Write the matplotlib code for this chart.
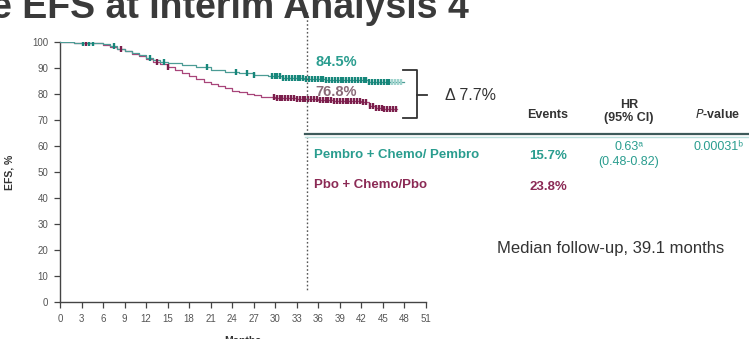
import matplotlib
matplotlib.use("Agg")
import matplotlib.pyplot as plt
from matplotlib.lines import Line2D

plt.rcParams['font.family'] = ['Liberation Sans', 'DejaVu Sans']

# ---------------- data ----------------
teal_t = [0, 2, 6, 7, 8, 9, 10, 11, 12, 13, 14, 15, 17, 19, 21, 23, 25, 27, 29, 31, 34, 37, 40, 43, 46, 48]
teal_s = [100, 99.6, 99.3, 98.5, 97.5, 96.5, 95.8, 95.0, 94.0, 93.2, 92.5, 92.0, 91.2, 90.2, 89.3, 88.6,
          88.0, 87.5, 86.8, 86.3, 85.9, 85.5, 85.2, 84.8, 84.5, 84.5]
pink_t = [0, 2, 6, 7, 8, 9, 10, 11, 12, 13, 14, 15, 16, 17, 18, 19, 20, 21, 22, 23, 24, 25, 26, 27, 28,
          30, 33, 36, 38, 40, 42, 43, 44, 45, 47]
pink_s = [100, 99.6, 99.0, 98.2, 97.3, 96.5, 95.5, 94.5, 93.5, 92.5, 91.5, 90.4, 89.3, 88.0, 86.8, 85.8,
          84.8, 83.8, 83.0, 82.2, 81.2, 80.6, 80.0, 79.5, 79.0, 78.6, 78.2, 77.8, 77.5, 77.2, 76.8, 75.5,
          74.8, 74.3, 74.3]
teal_cens = [3.2, 4.0, 4.6, 7.5, 12.5, 14.5, 20.5, 24.5, 26.0, 27.0,
             29.5, 29.9, 30.3, 30.7, 31.1, 31.5, 31.9, 32.3, 32.7, 33.1, 33.5, 33.9, 34.3, 34.7,
             35.1, 35.5, 35.9, 36.3, 36.7, 37.1, 37.5, 37.9, 38.3, 38.7, 39.1, 39.5, 39.9, 40.3,
             40.7, 41.1, 41.5, 41.9, 42.3, 42.7, 43.1, 43.5, 43.9, 44.3, 44.7, 45.1, 45.5, 45.9]
teal_tail_cens = [46.3, 46.7, 47.1, 47.5]
pink_cens = [3.6, 8.5, 13.5, 15.0,
             29.8, 30.2, 30.6, 31.0, 31.4, 31.8, 32.2, 32.6, 33.0, 33.4, 33.8, 34.2, 34.6, 35.0,
             35.4, 35.8, 36.2, 36.6, 37.0, 37.4, 37.8, 38.2, 38.6, 39.0, 39.4, 39.8, 40.2, 40.6,
             41.0, 41.4, 41.8, 42.2, 42.6, 43.2, 43.6, 44.0, 44.4, 44.8, 45.2, 45.6, 46.0, 46.4, 46.8]
x_ticks = list(range(0, 52, 3))
y_ticks = list(range(0, 101, 10))
rate_labels = ["84.5%", "76.8%"]
delta_label = "\u0394 7.7%"
arms = ["Pembro + Chemo/ Pembro", "Pbo + Chemo/Pbo"]
events = ["15.7%", "23.8%"]
hr_lines = ["0.63\u1d43", "(0.48-0.82)"]
p_text = "0.00031\u1d47"
median_fu = "Median follow-up, 39.1 months"
title = "e EFS at Interim Analysis 4"

# ---------------- figure ----------------
W, H = 749, 339
fig = plt.figure(figsize=(W / 100, H / 100), dpi=100)

def fx(x):
    return x / W

def fy(y):
    return 1 - y / H

TEAL_LINE = "#4c9c95"
TEAL_DARK = "#17877b"
TEAL_TAIL = "#9fd3cd"
PINK_LINE = "#a8457a"
PINK_DARK = "#7b1f4c"
TEAL_TXT = "#2a9d8f"
MAROON_TXT = "#8b2a55"
GRAY = "#555555"

ax = fig.add_axes([fx(60), fy(302), fx(426) - fx(60), fy(42) - fy(302)])
ax.set_xlim(0, 51)
ax.set_ylim(0, 100)


def surv_at(ts, ss, t):
    v = ss[0]
    for ti, si in zip(ts, ss):
        if ti <= t:
            v = si
    return v

ax.step(pink_t, pink_s, where="post", color=PINK_LINE, lw=0.9, zorder=3)
ax.step(teal_t, teal_s, where="post", color=TEAL_LINE, lw=0.9, zorder=4)
ax.plot(teal_cens, [surv_at(teal_t, teal_s, t) for t in teal_cens], ls="none", marker="|",
        ms=5, mew=1.7, color=TEAL_DARK, zorder=5)
ax.plot(teal_tail_cens, [surv_at(teal_t, teal_s, t) for t in teal_tail_cens], ls="none", marker="|",
        ms=5, mew=1.7, color=TEAL_TAIL, zorder=5)
ax.plot(pink_cens, [surv_at(pink_t, pink_s, t) for t in pink_cens], ls="none", marker="|",
        ms=5, mew=1.7, color=PINK_DARK, zorder=5)

for s in ["top", "right"]:
    ax.spines[s].set_visible(False)
for s in ["left", "bottom"]:
    ax.spines[s].set_color("#444444")
    ax.spines[s].set_linewidth(1.0)
ax.set_xticks(x_ticks)
ax.set_yticks(y_ticks)
ax.tick_params(axis="both", direction="out", length=4.5, width=0.9, color="#444444",
               labelsize=7, labelcolor=GRAY, pad=4)
ax.set_xlabel("Months", fontsize=7.5, fontweight="bold", color="#333333", labelpad=9)
ax.set_ylabel("EFS, %", fontsize=7.5, fontweight="bold", color="#333333", labelpad=13)

# dotted vertical line (figure-level)
fig.add_artist(Line2D([fx(307), fx(307)], [fy(12), fy(292)], ls=(0, (1.2, 1.6)), lw=1.0,
                      color="#555555"))

# title (cropped at top, as in the reference)
fig.text(fx(-9), fy(18), title, fontsize=27, fontweight="bold", color="#3a3a3a",
         ha="left", va="baseline")

# rate labels
fig.text(fx(315), fy(62), rate_labels[0], fontsize=10.5, fontweight="bold", color=TEAL_TXT,
         ha="left", va="center")
fig.text(fx(315), fy(92), rate_labels[1], fontsize=10.5, fontweight="bold", color="#8a6a78",
         ha="left", va="center", zorder=1)

# bracket
bx0, bx1 = 403, 417
fig.add_artist(Line2D([fx(bx0), fx(bx1), fx(bx1), fx(bx0)], [fy(70), fy(70), fy(118), fy(118)],
                      color="#333333", lw=1.3))
fig.add_artist(Line2D([fx(bx1), fx(427)], [fy(95), fy(95)], color="#333333", lw=1.3))
fig.text(fx(445), fy(95), delta_label, fontsize=11.5, color="#333333", ha="left", va="center")

# table
fig.add_artist(Line2D([fx(305), fx(749)], [fy(134), fy(134)], color="#3d5a5a", lw=1.6))
fig.add_artist(Line2D([fx(305), fx(749)], [fy(136.5), fy(136.5)], color="#b9dfdc", lw=1.0))
fig.text(fx(548), fy(115), "Events", fontsize=9, fontweight="bold", color="#333333",
         ha="center", va="center")
fig.text(fx(629), fy(105), "HR", fontsize=9, fontweight="bold", color="#333333",
         ha="center", va="center")
fig.text(fx(629), fy(118), "(95% CI)", fontsize=9, fontweight="bold", color="#333333",
         ha="center", va="center")
fig.text(fx(718), fy(115), "$\\mathbf{\\it{P}}$-value", fontsize=9, fontweight="bold",
         color="#333333", ha="center", va="center")

fig.text(fx(314), fy(155), arms[0], fontsize=9.5, fontweight="bold", color=TEAL_TXT,
         ha="left", va="center")
fig.text(fx(548), fy(156), events[0], fontsize=9.5, fontweight="bold", color=TEAL_TXT,
         ha="center", va="center")
fig.text(fx(629), fy(147), hr_lines[0], fontsize=9, color=TEAL_TXT, ha="center", va="center")
fig.text(fx(629), fy(162), hr_lines[1], fontsize=9, color=TEAL_TXT, ha="center", va="center")
fig.text(fx(719), fy(147), p_text, fontsize=9, color=TEAL_TXT, ha="center", va="center")

fig.text(fx(314), fy(185), arms[1], fontsize=9.5, fontweight="bold", color=MAROON_TXT,
         ha="left", va="center")
fig.text(fx(548), fy(187), events[1], fontsize=9.5, fontweight="bold", color=MAROON_TXT,
         ha="center", va="center")

fig.text(fx(497), fy(248), median_fu, fontsize=12, color="#333333", ha="left", va="center")

fig.savefig("out.png", dpi=100)
